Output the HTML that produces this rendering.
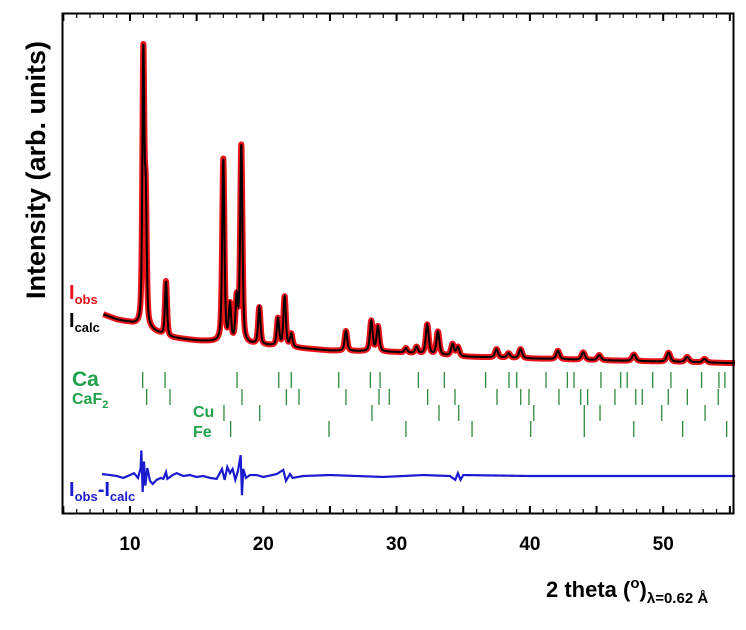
<!DOCTYPE html>
<html><head><meta charset="utf-8"><style>
body{margin:0;background:#fff;}
svg{display:block;font-family:"Liberation Sans",sans-serif;}
</style></head><body>
<svg id="chart" width="746" height="630" viewBox="0 0 746 630">
<g id="plot"></g>
<rect x="62.5" y="13.5" width="671" height="500" fill="none" stroke="#000" stroke-width="2"/>
<g id="ticks"></g>
<text x="0" y="0" transform="translate(45,170) rotate(-90)" text-anchor="middle" font-size="27" font-weight="bold">Intensity (arb. units)</text>
<text x="546" y="597" font-size="22" font-weight="bold">2 theta (<tspan font-size="15" dy="-9">o</tspan><tspan dy="9">)</tspan><tspan font-size="15" dy="6">λ=0.62 Å</tspan></text>
<text x="69" y="299" font-size="20" font-weight="bold" fill="#e8141a">I<tspan font-size="13" dy="5">obs</tspan></text>
<text x="69" y="327" font-size="20" font-weight="bold" fill="#000">I<tspan font-size="13" dy="5">calc</tspan></text>
<text x="72" y="386" font-size="21" font-weight="bold" fill="#1fa24a">Ca</text>
<text x="72" y="404" font-size="16" font-weight="bold" fill="#1fa24a">CaF<tspan font-size="11" dy="4">2</tspan></text>
<text x="193" y="417" font-size="16" font-weight="bold" fill="#1fa24a">Cu</text>
<text x="193" y="437" font-size="16" font-weight="bold" fill="#1fa24a">Fe</text>
<text x="69" y="496" font-size="20" font-weight="bold" fill="#1a1ad0">I<tspan font-size="13" dy="5">obs</tspan><tspan dy="-5">-I</tspan><tspan font-size="13" dy="5">calc</tspan></text>
</svg>
<script>
const bgAngles=[8,9,10,13,15,20,25,30,35,45,55];
const bgValues=[158,142,132,86,76,62,45,40,26,15,6];
const peakAngles=[11.0,11.18,12.7,17.0,17.5,18.0,18.35,19.7,21.1,21.6,22.1,26.2,28.1,28.6,30.7,31.5,32.3,33.1,34.2,34.6,37.5,38.4,39.3,42.1,44.0,45.2,47.8,50.4,51.8,53.1];
const peakHeights=[840,380,170,570,110,130,615,115,85,155,40,62,95,78,14,20,92,72,36,28,26,14,28,26,23,16,20,28,16,11];
const caTicks=[10.95,12.63,18.03,21.16,22.1,25.66,28.03,28.76,31.63,33.58,36.68,38.43,39.01,41.21,42.81,43.31,45.33,46.81,47.3,49.21,50.58,52.88,54.18,54.63];
const caf2Ticks=[11.25,13.0,18.4,21.73,22.68,26.2,28.68,29.45,32.33,34.38,37.53,39.31,39.93,42.18,43.81,44.33,46.38,47.94,48.43,50.38,51.81,54.13];
const cuTicks=[17.05,19.73,28.15,33.18,34.66,40.29,44.08,45.26,49.89,53.14];
const feTicks=[17.55,24.93,30.7,35.66,40.06,44.08,47.79,51.46,54.76];
const diffAngles=[7.9,8.5,9.0,9.5,10.0,10.3,10.6,10.8,10.85,10.95,11.05,11.15,11.3,11.5,11.7,12.0,12.3,12.5,12.7,12.8,13.2,13.5,14.0,14.5,15.0,15.5,16.0,16.5,16.9,17.1,17.3,17.5,17.7,17.9,18.1,18.3,18.4,18.5,18.7,19.0,19.5,20.0,21.0,21.5,21.7,22.0,22.2,23,25,27,29,32,34,34.4,34.6,34.8,35,40,45,50,55];
const diffValues=[6,3,0,-6,3,9,-6,25,80,-50,45,-30,25,-15,-25,-12,-6,-9,12,-9,3,9,0,3,-3,0,-6,-9,22,-12,28,9,22,-12,16,65,-60,22,-6,3,3,-3,6,19,-15,6,-6,0,3,0,-3,3,0,-12,9,-12,3,0,0,0,0];

const NS="http://www.w3.org/2000/svg";
const X0=8,X1=55.4;
function xs(t){return 130+(t-10)*13.33;}
function ys(i){return 365-i*0.32;}
function yd(r){return 476-r*0.32;}
function interp(ax,av,t){
  if(t<=ax[0])return av[0];
  for(let k=1;k<ax.length;k++){if(t<=ax[k]){const f=(t-ax[k-1])/(ax[k]-ax[k-1]);return av[k-1]+f*(av[k]-av[k-1]);}}
  return av[av.length-1];
}
function calc(t){
  let v=interp(bgAngles,bgValues,t);
  for(let k=0;k<peakAngles.length;k++){
    const w=0.065+0.002*peakAngles[k];const d=(t-peakAngles[k])/w;
    v+=peakHeights[k]*(0.5*Math.exp(-0.693*d*d)+0.5/(1+d*d));
  }
  return v;
}
const plot=document.getElementById('plot');
let pts=[];
for(let t=X0;t<=X1;t+=0.015){pts.push(xs(t).toFixed(2)+','+ys(calc(t)).toFixed(2));}
const obs=document.createElementNS(NS,'polyline');
obs.setAttribute('points',pts.join(' '));obs.setAttribute('fill','none');obs.setAttribute('stroke','#e8141a');obs.setAttribute('stroke-width','6');obs.setAttribute('stroke-linejoin','round');


plot.appendChild(obs);
const cal=document.createElementNS(NS,'polyline');
cal.setAttribute('points',pts.join(' '));cal.setAttribute('fill','none');cal.setAttribute('stroke','#000');cal.setAttribute('stroke-width','2');


plot.appendChild(cal);
function tickRow(arr,y0,y1,name){
  arr.forEach(t=>{
    const l=document.createElementNS(NS,'line');
    l.setAttribute('x1',xs(t));l.setAttribute('x2',xs(t));l.setAttribute('y1',y0);l.setAttribute('y2',y1);
    l.setAttribute('stroke','#2e8b3e');l.setAttribute('stroke-width','1.3');
    
    
    plot.appendChild(l);
  });
}
tickRow(caTicks,372,388,'ca-reflection-tick');
tickRow(caf2Ticks,389,405,'caf2-reflection-tick');
tickRow(cuTicks,405,421,'cu-reflection-tick');
tickRow(feTicks,421,437,'fe-reflection-tick');
let dp=[];
for(let t=7.9;t<=X1;t+=0.05){dp.push(xs(t).toFixed(2)+','+yd(interp(diffAngles,diffValues,t)).toFixed(2));}
const dl=document.createElementNS(NS,'polyline');
dl.setAttribute('points',dp.join(' '));dl.setAttribute('fill','none');dl.setAttribute('stroke','#1a1ad0');dl.setAttribute('stroke-width','2.2');


plot.appendChild(dl);
const tg=document.getElementById('ticks');
for(let t=5;t<=55;t++){
  const major=t%5===0;const len=major?7:4;
  [[513,513-len],[14,14+len]].forEach(p=>{
    const l=document.createElementNS(NS,'line');
    l.setAttribute('x1',xs(t));l.setAttribute('x2',xs(t));l.setAttribute('y1',p[0]);l.setAttribute('y2',p[1]);
    l.setAttribute('stroke','#000');l.setAttribute('stroke-width',major?'2':'1.2');
    
    
    tg.appendChild(l);
  });
  if(t%10===0){
    const tx=document.createElementNS(NS,'text');
    tx.setAttribute('x',xs(t));tx.setAttribute('y',550);tx.setAttribute('text-anchor','middle');
    tx.setAttribute('font-size','19');tx.setAttribute('font-weight','bold');tx.textContent=t;
    
    
    tg.appendChild(tx);
  }
}
</script>
</body></html>
